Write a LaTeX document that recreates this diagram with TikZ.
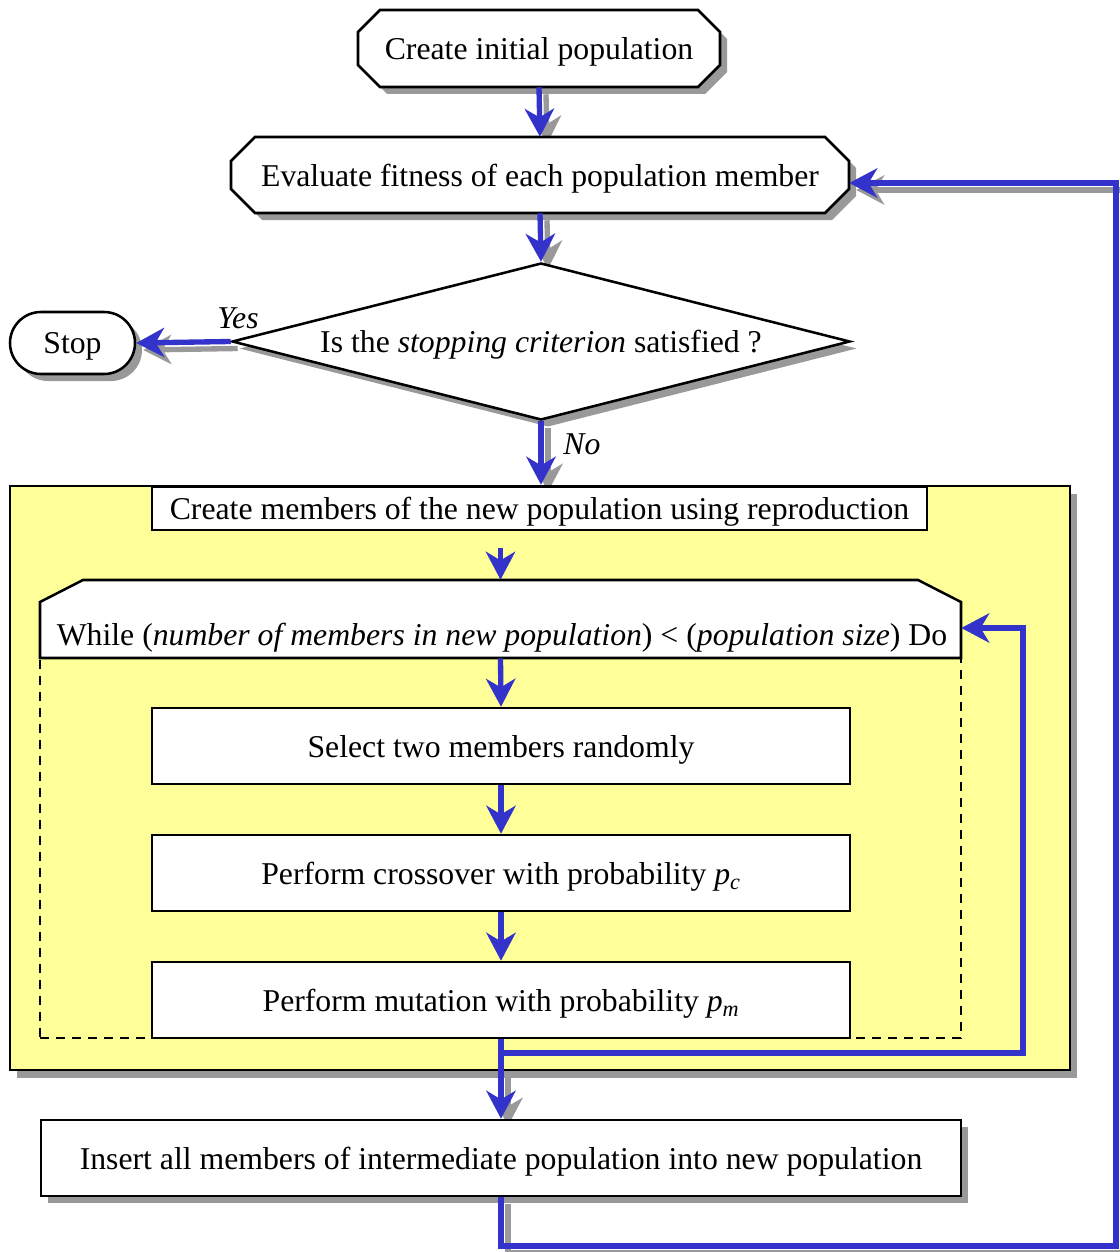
\documentclass[tikz,border=0pt]{standalone}
\usepackage{fontspec}
\setmainfont{Liberation Serif}
\usetikzlibrary{arrows.meta,shapes.geometric,shapes.misc,shadows,calc}
\definecolor{flowblue}{RGB}{51,51,204}
\definecolor{shadowgray}{RGB}{153,153,153}
\definecolor{paleyellow}{RGB}{255,255,153}
\pgfdeclarelayer{bg}
\pgfsetlayers{bg,main}
\begin{document}
\begin{tikzpicture}[x=0.75pt,y=-0.75pt,
  font=\fontsize{23.8}{28}\selectfont,
  boxline/.style={draw=black, line width=1.9pt, line join=miter},
  nshadow/.style={general shadow={fill=shadowgray, shadow xshift=5.25pt, shadow yshift=-5.25pt}},
  plainbox/.style={boxline, fill=white, rectangle, inner sep=0pt, text depth=0pt},
  textonly/.style={draw=none, inner sep=0pt, text depth=0pt},
  tipstyle/.style={-{Stealth[length=21pt,width=22pt,inset=6.5pt]}},
  flow/.style={draw=flowblue, line width=4pt, tipstyle},
  flowsh/.style={draw=shadowgray, line width=4pt, tipstyle, transform canvas={xshift=5.25pt,yshift=-5.25pt}},
  lbl/.style={font=\fontsize{23.8}{28}\selectfont\itshape, inner sep=0pt}
]
\useasboundingbox (0,0) rectangle (1120,1252);

% ---------- octagonal boxes (drawn shapes) ----------
\begin{scope}[shift={(7,7)}]
  \fill[shadowgray] (358,32) -- (380,10) -- (698,10) -- (720,32) -- (720,65) -- (698,87) -- (380,87) -- (358,65) -- cycle;
  \fill[shadowgray] (231,161) -- (255,137) -- (825,137) -- (849,161) -- (849,189) -- (825,213) -- (255,213) -- (231,189) -- cycle;
\end{scope}
\draw[boxline, fill=white] (358,32) -- (380,10) -- (698,10) -- (720,32) -- (720,65) -- (698,87) -- (380,87) -- (358,65) -- cycle;
\draw[boxline, fill=white] (231,161) -- (255,137) -- (825,137) -- (849,161) -- (849,189) -- (825,213) -- (255,213) -- (231,189) -- cycle;

\node[textonly, minimum width=271.5pt, minimum height=57.75pt] (init) at (539,48.5) {Create initial population};
\node[textonly, minimum width=463.5pt, minimum height=57pt] (eval) at (540,175) {Evaluate fitness of each population member};

% ---------- decision ----------
\node[diamond, boxline, fill=white, nshadow, aspect=3.94, inner sep=0pt, text depth=0pt,
      minimum width=463.5pt, minimum height=117.75pt] (dec) at (541,341.5)
      {Is the \textit{stopping criterion} satisfied ?};

\node[rounded rectangle, boxline, fill=white, nshadow, inner sep=0pt, text depth=0pt,
      minimum width=93.75pt, minimum height=46.5pt] (stop) at (72.5,343) {Stop};

\node[lbl] (yes) at (238,318) {Yes};
\node[lbl] (no) at (582,444) {No};

% ---------- reproduction block ----------
\node[boxline, fill=paleyellow, rectangle, inner sep=0pt,
      general shadow={fill=shadowgray, shadow xshift=5.25pt, shadow yshift=-6pt},
      minimum width=795pt, minimum height=438pt] (repro) at (540,778) {};

\node[plainbox, minimum width=581.25pt, minimum height=32.25pt] (cm) at (539.5,508.5)
  {Create members of the new population using reproduction};

\draw[boxline, fill=white] (40,658) -- (40,602) -- (83,580) -- (918,580) -- (961,602) -- (961,658) -- cycle;
\node[textonly, minimum width=690.75pt, minimum height=58.5pt] (whilehdr) at (500.5,619) {};
\node[textonly] (whiletxt) at (502,634)
  {While (\textit{number of members in new population}) < (\textit{population size}) Do};

\node[draw=black, line width=2pt, dash pattern=on 7pt off 5pt, rectangle, inner sep=0pt,
      minimum width=690.75pt, minimum height=285pt] (body) at (500.5,848) {};

\node[plainbox, minimum width=523.5pt, minimum height=57pt] (sel) at (501,746) {Select two members randomly};
\node[plainbox, minimum width=523.5pt, minimum height=57pt] (cross) at (501,873)
  {Perform crossover with probability \textit{p}\textsubscript{\textit{c}}};
\node[plainbox, minimum width=523.5pt, minimum height=57pt] (mut) at (501,1000)
  {Perform mutation with probability \textit{p}\textsubscript{\textit{m}}};

\node[plainbox, nshadow, minimum width=690pt, minimum height=57pt] (insert) at (501,1158)
  {Insert all members of intermediate population into new population};

% ---------- helper coordinates ----------
\coordinate (wstart) at (500.5,548);
\coordinate (wcorner) at (1023,1053);
\coordinate (wend) at ($(whilehdr.east)+(0,9)$);
\coordinate (ecorner) at (1116,1246);
\coordinate (eend) at ($(eval.east)+(0,8)$);

% ---------- connectors ----------
\draw[flow] (init.south) -- (eval.north);
\draw[flow] (eval.south) -- (dec.north);
\draw[flow] (dec.west) -- (stop.east);
\draw[flow] (dec.south) -- (dec.south |- repro.north);
\draw[flow] (wstart) -- (whilehdr.north);
\draw[flow] (whilehdr.south) -- (sel.north);
\draw[flow] (sel.south) -- (cross.north);
\draw[flow] (cross.south) -- (mut.north);
\draw[flow] (mut.south) -- (insert.north);
\draw[flow] (mut.south) |- (wcorner) |- (wend);
\draw[flow] (insert.south) |- (ecorner) |- (eend);

% ---------- connector shadows ----------
\begin{pgfonlayer}{bg}
\draw[flowsh] (init.south) -- (eval.north);
\draw[flowsh] (eval.south) -- (dec.north);
\draw[flowsh] (dec.west) -- (stop.east);
\draw[flowsh] (dec.south) -- (dec.south |- repro.north);
\draw[flowsh] (mut.south) -- (insert.north);
\draw[flowsh] (insert.south) |- (ecorner) |- (eend);
\end{pgfonlayer}
\end{tikzpicture}
\end{document}
